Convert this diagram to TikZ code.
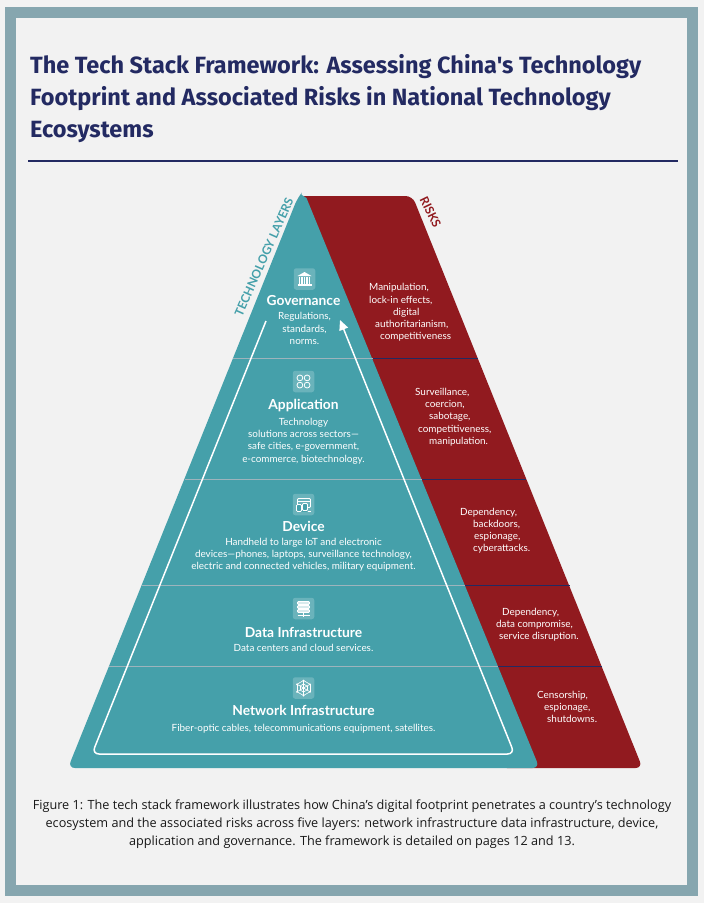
\documentclass[tikz,border=0pt]{standalone}
\usepackage{fontspec}
\setmainfont{Lato}
\newfontfamily\titlefont{Fira Sans}
\newfontfamily\capfont{Open Sans}
\usetikzlibrary{arrows.meta}
\definecolor{teal1}{HTML}{45A0AA}
\definecolor{red1}{HTML}{911A1F}
\definecolor{navy1}{HTML}{232A62}
\definecolor{frame1}{HTML}{86A6AF}
\definecolor{bg1}{HTML}{F2F2F2}
\definecolor{sep1}{HTML}{9DB4BC}
\newcommand{\fs}[2]{\fontsize{#1}{#2}\selectfont}
\tikzset{
  x=1pt,y=-1pt,
  titletext/.style={anchor=north west,inner sep=0,align=left,text=navy1,font=\titlefont\bfseries\fs{23.5}{32}},
  captext/.style={inner sep=0,align=center,text=black!90,font=\capfont\fs{12.68}{18}},
  layertitle/.style={inner sep=0,text=white,font=\bfseries\fs{13.8}{16}},
  layerbody/.style={inner sep=0,align=center,text=white,font=\fs{9.9}{12.2}},
  risktext/.style={anchor=north west,inner sep=0,align=left,text=white,font=\fs{9.9}{12.2}},
  iconbox/.style={minimum size=21.5pt,inner sep=0,rounded corners=2.5pt,fill=white,fill opacity=.2},
  ic/.style={draw=white,line width=.8pt},
  sidelabel/.style={inner sep=0,font=\bfseries\fs{12}{14}},
  seplight/.style={draw=sep1,line width=.8pt},
  sepnavy/.style={draw=navy1,line width=1pt},
}
\begin{document}
\begin{tikzpicture}
\useasboundingbox (0,0) rectangle (704,903);
\fill[bg1] (0,0) rectangle (704,903);
\draw[frame1,line width=11pt] (10.5,12.5) rectangle (692.5,890.5);

\node[titletext] (title) at (30,54.5) {The Tech Stack Framework: Assessing China's Technology\\Footprint and Associated Risks in National Technology\\Ecosystems};
\coordinate (ruleL) at (28,161); \coordinate (ruleR) at (678,161);
\draw[navy1,line width=1.5pt] (ruleL) -- (ruleR);

% pyramid
\fill[red1,rounded corners=7pt] (296,196) -- (412.5,196) -- (642.5,768) -- (500,768) -- cycle;
\fill[teal1,rounded corners=7pt] (306.5,198) -- (539.5,768) -- (68,768) -- (297.5,198) [sharp corners] .. controls (299.5,195.5) and (304.5,195.5) .. (306.5,198) -- cycle;

% separators
\coordinate (a1) at (233,358); \coordinate (a2) at (373,358); \coordinate (a3) at (478,358);
\coordinate (b1) at (185,479); \coordinate (b2) at (422,479); \coordinate (b3) at (526,479);
\coordinate (c1) at (142,585.5); \coordinate (c2) at (465,585.5); \coordinate (c3) at (570,585.5);
\coordinate (d1) at (109,666); \coordinate (d2) at (498,666); \coordinate (d3) at (602,666);
\foreach \p/\q/\r in {a1/a2/a3,b1/b2/b3,c1/c2/c3,d1/d2/d3}{
  \draw[seplight] (\p) -- (\q);
  \draw[sepnavy] (\q) -- (\r);
}

% white arrow
\coordinate (arrS) at (266,321); \coordinate (arrL) at (92,754); \coordinate (arrR) at (514.5,754); \coordinate (arrT) at (340,320);
\draw[white,line width=1.5pt,rounded corners=7pt,-{Triangle[length=10pt,width=9pt]}] (arrS) -- (arrL) -- (arrR) -- (arrT);

% side labels
\node[sidelabel,text=teal1,rotate=66] (techlabel) at (264,257) {TECHNOLOGY LAYERS};
\node[sidelabel,text=red1,rotate=-64] (risklabel) at (430.5,212) {RISKS};

% icons
\node[iconbox] (i1) at (304.5,279) {};
\node[iconbox] (i2) at (303.5,381.5) {};
\node[iconbox] (i3) at (303.5,504.5) {};
\node[iconbox] (i4) at (303.5,608.5) {};
\node[iconbox] (i5) at (303.5,688) {};
% governance
\begin{scope}[shift={(304.5,279)}]
  \fill[white] (-7,-3) -- (0,-7) -- (7,-3) -- cycle;
  \fill[white] (-7,5.2) rectangle (7,7);
  \foreach \x in {-5,-2.5,0,2.5,5} \fill[white] (\x-.7,-2) rectangle (\x+.7,4.5);
\end{scope}
% application
\begin{scope}[shift={(303.5,381.5)}]
  \foreach \x/\y in {-3.6/-3.6,3.6/-3.6,-3.6/3.6,3.6/3.6} \draw[ic] (\x,\y) circle (2.9);
\end{scope}
% device
\begin{scope}[shift={(303.5,504.5)}]
  \draw[ic,rounded corners=1pt] (-6,-6) rectangle (7,3);
  \draw[ic] (-6,-3) -- (7,-3);
  \fill[white!0!teal1] (-7.5,-1) rectangle (3,7.5);
  \draw[ic,rounded corners=1pt] (-7,0) rectangle (-2,7);
  \draw[ic,rounded corners=1pt] (-1,-1) rectangle (4,6);
  \draw[ic] (4,6.5) -- (7,6.5);
\end{scope}
% data infrastructure
\begin{scope}[shift={(303.5,608.5)}]
  \foreach \y in {-7,-3,1} \draw[ic,fill=white,fill opacity=.75,rounded corners=1pt] (-6,\y) rectangle (6,\y+3);
  \draw[ic] (0,4) -- (0,8); \draw[ic] (-6,6.5) -- (6,6.5);
\end{scope}
% network
\begin{scope}[shift={(303.5,688)}]
  \foreach \a in {30,90,...,330}{
    \draw[white,line width=.6pt] (0,0) -- (\a:7.5);
    \draw[white,line width=.6pt] (\a:7.5) -- (\a+60:7.5);
    \draw[white,line width=.6pt] (\a:4) -- (\a+60:4);
    \fill[white] (\a:7.5) circle (1);
  }
\end{scope}

% layer text
\node[layertitle] (t1) at (303.5,301) {Governance};
\node[layerbody]  (b1t) at (304.5,328.5) {Regulations,\\standards,\\norms.};
\node[layertitle] (t2) at (303.5,405.5) {Application};
\node[layerbody]  (b2t) at (303.5,441) {Technology\\solutions across sectors—\\safe cities, e-government,\\e-commerce, biotechnology.};
\node[layertitle] (t3) at (303.5,526.5) {Device};
\node[layerbody]  (b3t) at (303.5,554.5) {Handheld to large IoT and electronic\\devices—phones, laptops, surveillance technology,\\electric and connected vehicles, military equipment.};
\node[layertitle] (t4) at (303.5,632) {Data Infrastructure};
\node[layerbody]  (b4t) at (303.5,648) {Data centers and cloud services.};
\node[layertitle] (t5) at (303.5,710.5) {Network Infrastructure};
\node[layerbody]  (b5t) at (303.5,729) {Fiber-optic cables, telecommunications equipment, satellites.};

% risk text
\node[risktext] (r1) at (369,283.5) {Manipulation,\\lock-in effects,\\\hspace*{24pt}digital\\\hspace*{6pt}authoritarianism,\\\hspace*{11pt}competitiveness};
\node[risktext] (r2) at (415,388) {Surveillance,\\\hspace*{10pt}coercion,\\\hspace*{14pt}sabotage,\\\hspace*{3pt}competitiveness,\\\hspace*{14pt}manipulation.};
\node[risktext] (r3) at (460,507.5) {Dependency,\\\hspace*{13pt}backdoors,\\\hspace*{14pt}espionage,\\\hspace*{13pt}cyberattacks.};
\node[risktext] (r4) at (496,608) {\hspace*{6pt}Dependency,\\data compromise,\\\hspace*{3pt}service disruption.};
\node[risktext] (r5) at (537,690.5) {Censorship,\\\hspace*{7pt}espionage,\\\hspace*{10pt}shutdowns.};

% caption
\node[captext] (cap) at (352,824) {Figure 1: The tech stack framework illustrates how China’s digital footprint penetrates a country’s technology\\ecosystem and the associated risks across five layers: network infrastructure data infrastructure, device,\\application and governance. The framework is detailed on pages 12 and 13.};
\end{tikzpicture}
\end{document}
